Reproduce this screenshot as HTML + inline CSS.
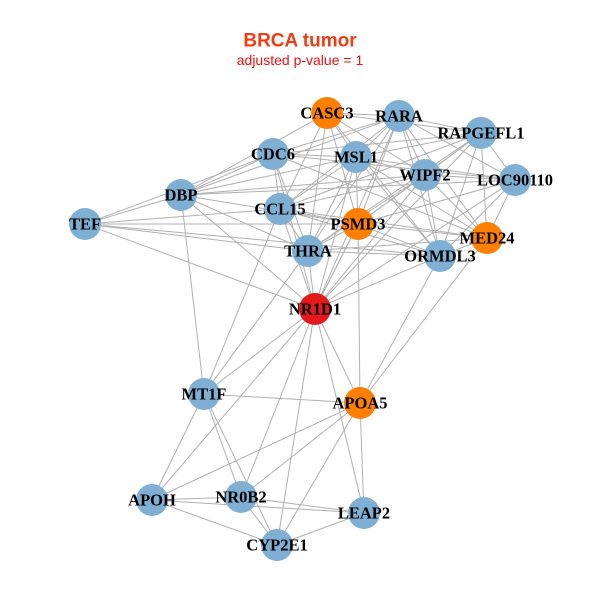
<!DOCTYPE html>
<html><head><meta charset="utf-8"><style>
body{margin:0;background:#fff}
svg{display:block}
text{font-family:"Liberation Serif",serif;font-weight:bold;font-size:16.5px;text-anchor:middle;dominant-baseline:central}
</style></head><body>
<svg id="s" width="600" height="600" xmlns="http://www.w3.org/2000/svg">
<text x="300" y="41" style="font-family:'Liberation Sans',sans-serif;font-size:19px;fill:#f03c14">BRCA tumor</text>
<text x="300" y="60" style="font-family:'Liberation Sans',sans-serif;font-weight:normal;font-size:14px;fill:#f01010">adjusted p-value = 1</text>
<g id="e" stroke="#b0b0b0" stroke-width="1"></g>
<g id="n"></g>
</svg>
<script>
var N={CASC3:[327,113,'o'],RARA:[399,116,'b'],RAPGEFL1:[481,133,'b'],CDC6:[273,154,'b'],MSL1:[356,157,'b'],WIPF2:[425,175,'b'],LOC90110:[515,180,'b'],DBP:[181,195,'b'],CCL15:[280,209,'b'],PSMD3:[358,224,'o'],MED24:[487,238,'o'],TEF:[85,224,'b'],THRA:[308,251,'b'],ORMDL3:[440,256,'b'],NR1D1:[315,309,'r'],MT1F:[204,394,'b'],APOA5:[360,403,'o'],APOH:[152,500,'b'],NR0B2:[241,497,'b'],LEAP2:[364,513,'b'],CYP2E1:[277,545,'b']};
var C=['CASC3','RARA','RAPGEFL1','CDC6','MSL1','WIPF2','LOC90110','CCL15','PSMD3','MED24','THRA','ORMDL3','NR1D1'];
var E=[];
for(var i=0;i<C.length;i++)for(var j=i+1;j<C.length;j++){if((i*7+j*3)%9!=0)E.push([C[i],C[j]]);}
E=E.concat([['DBP','CDC6'],['DBP','CASC3'],['DBP','MSL1'],['DBP','WIPF2'],['DBP','LOC90110'],['DBP','PSMD3'],['DBP','THRA'],['DBP','NR1D1'],['DBP','MT1F'],['DBP','TEF'],['DBP','RARA'],
['TEF','CDC6'],['TEF','CCL15'],['TEF','PSMD3'],['TEF','THRA'],['TEF','NR1D1'],['TEF','ORMDL3'],
['MT1F','NR1D1'],['MT1F','APOA5'],['MT1F','NR0B2'],['MT1F','CYP2E1'],['MT1F','APOH'],['MT1F','CCL15'],['MT1F','THRA'],
['APOA5','NR1D1'],['APOA5','APOH'],['APOA5','NR0B2'],['APOA5','LEAP2'],['APOA5','CYP2E1'],['APOA5','PSMD3'],['APOA5','ORMDL3'],['APOA5','MED24'],
['APOH','NR0B2'],['APOH','LEAP2'],['APOH','CYP2E1'],['NR0B2','CYP2E1'],['NR0B2','LEAP2'],['NR0B2','NR1D1'],['CYP2E1','NR1D1'],['LEAP2','NR1D1'],['CYP2E1','LEAP2'],['APOH','NR1D1'],['NR1D1','PSMD3']]);
var ns='http://www.w3.org/2000/svg',eg=document.getElementById('e'),ng=document.getElementById('n');
E.forEach(function(p){var a=N[p[0]],b=N[p[1]],l=document.createElementNS(ns,'line');l.setAttribute('x1',a[0]);l.setAttribute('y1',a[1]);l.setAttribute('x2',b[0]);l.setAttribute('y2',b[1]);eg.appendChild(l);});
var col={o:'#ff7f00',b:'#7fb0d4',r:'#e31a1c'};
for(var k in N){var v=N[k],c=document.createElementNS(ns,'circle');c.setAttribute('cx',v[0]);c.setAttribute('cy',v[1]);c.setAttribute('r',16);c.setAttribute('fill',col[v[2]]);ng.appendChild(c);}
for(var k in N){var v=N[k],t=document.createElementNS(ns,'text');t.setAttribute('x',v[0]);t.setAttribute('y',v[1]);t.textContent=k;ng.appendChild(t);}
</script>
</body></html>
